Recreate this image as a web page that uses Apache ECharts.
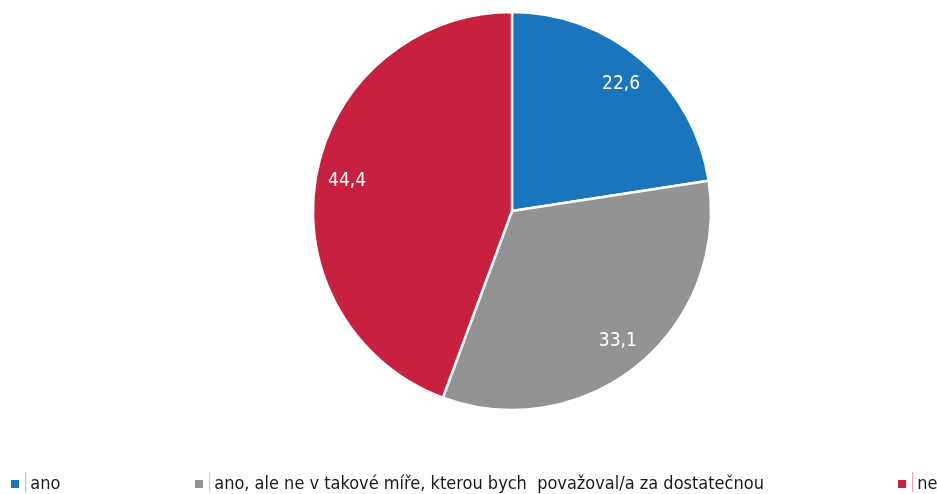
<!DOCTYPE html>
<html>
<head>
<meta charset="utf-8">
<script src="https://cdn.jsdelivr.net/npm/echarts@6/dist/echarts.min.js"></script>
<style>
  html, body { margin: 0; padding: 0; background: #fff; }
  #chart { width: 937px; height: 494px; }
</style>
</head>
<body>
<div id="chart"></div>
<script>
const categories = ['ano', 'ano, ale ne v takové míře, kterou bych  považoval/a za dostatečnou', 'ne']
const values = [22.6, 33.1, 44.4]
const colors = ['#1b75bc', '#919395', '#c8203f']
const sepColors = ['#a9c9e6', '#d3d4d5', '#e8a5b2']
const legendLeft = [9, 193, 896]

const font = "'Liberation Sans Narrow', 'DejaVu Sans Condensed', 'Roboto Condensed', sans-serif"

const chart = echarts.init(document.getElementById('chart'))

const pieData = categories.map((name, i) => ({
  name,
  value: values[i],
  itemStyle: { color: colors[i] },
}))

const option = {
  backgroundColor: '#fff',
  animation: false,
  legend: categories.map((name, i) => ({
    data: [name],
    left: legendLeft[i],
    top: 475,
    padding: 0,
    itemWidth: 10,
    itemHeight: 10,
    itemGap: 0,
    icon: 'rect',
    formatter: '{s|│}{t|{name}}',
    textStyle: {
      fontFamily: font,
      rich: {
        s: { color: sepColors[i], fontSize: 17, fontFamily: font, padding: [0, 0, 0, -4] },
        t: { color: '#1a1a1a', fontSize: 18, fontFamily: font },
      },
    },
  })),
  series: [
    {
      type: 'pie',
      center: [512, 211],
      radius: [0, 199],
      startAngle: 90,
      clockwise: true,
      label: { show: false },
      labelLine: { show: false },
      itemStyle: { borderColor: '#fff', borderWidth: 2.5 },
      emphasis: { disabled: true },
      data: pieData,
    },
    {
      type: 'pie',
      center: [512, 211],
      radius: [130, 199],
      startAngle: 90,
      clockwise: true,
      silent: true,
      itemStyle: { color: 'transparent' },
      label: {
        show: true,
        position: 'inside',
        color: '#fff',
        fontSize: 19,
        fontFamily: font,
        formatter: p => String(p.value).replace('.', ','),
      },
      labelLine: { show: false },
      emphasis: { disabled: true },
      data: categories.map((name, i) => ({ name, value: values[i] })),
    },
  ],
}

chart.setOption(option)
</script>
</body>
</html>
